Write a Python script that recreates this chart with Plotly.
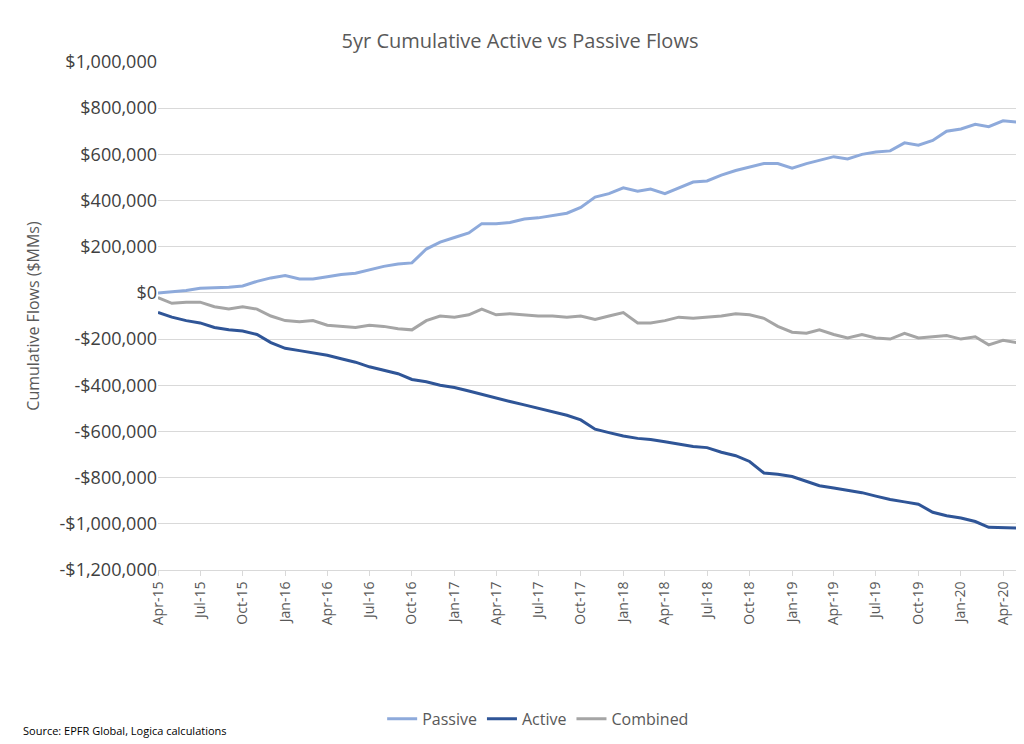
import pandas as pd
import plotly.graph_objects as go

dates = pd.date_range("2015-04-01", "2020-06-01", freq="MS")[:62].tolist() + [pd.Timestamp("2020-05-10")]

passive = [0, 5e3, 10e3, 20e3, 22e3, 25e3, 30e3, 50e3, 65e3, 75e3, 60e3, 60e3,
           70e3, 80e3, 85e3, 100e3, 115e3, 125e3, 130e3, 190e3, 220e3, 240e3, 260e3, 300e3,
           300e3, 305e3, 320e3, 325e3, 335e3, 345e3, 370e3, 415e3, 430e3, 455e3, 440e3, 450e3,
           430e3, 455e3, 480e3, 485e3, 510e3, 530e3, 545e3, 560e3, 560e3, 540e3, 560e3, 575e3,
           590e3, 580e3, 600e3, 610e3, 615e3, 650e3, 640e3, 660e3, 700e3, 710e3, 730e3, 720e3,
           745e3, 740e3, 738e3]
active = [-85e3, -105e3, -120e3, -130e3, -150e3, -160e3, -165e3, -180e3, -215e3, -240e3, -250e3, -260e3,
          -270e3, -285e3, -300e3, -320e3, -335e3, -350e3, -375e3, -385e3, -400e3, -410e3, -425e3, -440e3,
          -455e3, -470e3, -485e3, -500e3, -515e3, -530e3, -550e3, -590e3, -605e3, -620e3, -630e3, -635e3,
          -645e3, -655e3, -665e3, -670e3, -690e3, -705e3, -730e3, -780e3, -785e3, -795e3, -815e3, -835e3,
          -845e3, -855e3, -865e3, -880e3, -895e3, -905e3, -915e3, -950e3, -965e3, -975e3, -990e3, -1015e3,
          -1015e3, -1018e3, -1020e3]
combined = [-20e3, -45e3, -40e3, -40e3, -60e3, -70e3, -60e3, -70e3, -100e3, -120e3, -125e3, -120e3,
            -140e3, -145e3, -150e3, -140e3, -145e3, -155e3, -160e3, -120e3, -100e3, -105e3, -95e3, -70e3,
            -95e3, -90e3, -95e3, -100e3, -100e3, -105e3, -100e3, -115e3, -100e3, -85e3, -130e3, -130e3,
            -120e3, -105e3, -110e3, -105e3, -100e3, -90e3, -95e3, -110e3, -145e3, -170e3, -175e3, -160e3,
            -180e3, -195e3, -180e3, -195e3, -200e3, -175e3, -195e3, -190e3, -185e3, -200e3, -190e3, -225e3,
            -205e3, -215e3, -220e3]

tick_vals = pd.date_range("2015-04-01", "2020-04-01", freq="3MS")
y_ticks = list(range(-1200000, 1000001, 200000))
y_text = [("-$" if v < 0 else "$") + f"{abs(v):,}" if v != 0 else "$0" for v in y_ticks]

fig = go.Figure()
fig.add_trace(go.Scatter(x=dates, y=passive, name="Passive", mode="lines", line=dict(color="#8eaadb", width=3)))
fig.add_trace(go.Scatter(x=dates, y=active, name="Active", mode="lines", line=dict(color="#2f5597", width=3)))
fig.add_trace(go.Scatter(x=dates, y=combined, name="Combined", mode="lines", line=dict(color="#a5a5a5", width=3)))

fig.update_layout(
    width=1024, height=744, plot_bgcolor="white", paper_bgcolor="white",
    font=dict(family="Open Sans, Calibri, sans-serif", color="#595959", size=16),
    title=dict(text="5yr Cumulative Active vs Passive Flows", x=0.5, xref="container", xanchor="center",
               y=0.965, font=dict(size=20)),
    margin=dict(l=150, r=10, t=54, b=182),
    legend=dict(orientation="h", x=0.44, xanchor="center", y=-0.293, yanchor="middle", font=dict(size=16)),
)
fig.update_xaxes(tickvals=tick_vals, tickformat="%b-%y", tickangle=-90, range=["2015-04-01", "2020-05-12"],
                 showgrid=False, showline=True, linecolor="#d9d9d9", ticks="outside", tickcolor="#d9d9d9",
                 tickfont=dict(size=14))
fig.update_yaxes(range=[-1200000, 1000000], tickvals=y_ticks, ticktext=y_text, gridcolor="#d9d9d9",
                 zeroline=False, title=dict(text="Cumulative Flows ($MMs)", font=dict(size=16)),
                 tickfont=dict(size=18, color="#404040"))
fig.add_annotation(text="Source: EPFR Global, Logica calculations", xref="paper", yref="paper",
                   x=-0.158, y=-0.315, xanchor="left", yanchor="middle", showarrow=False,
                   font=dict(size=11, color="#000000"))
fig.write_html("out.html")
